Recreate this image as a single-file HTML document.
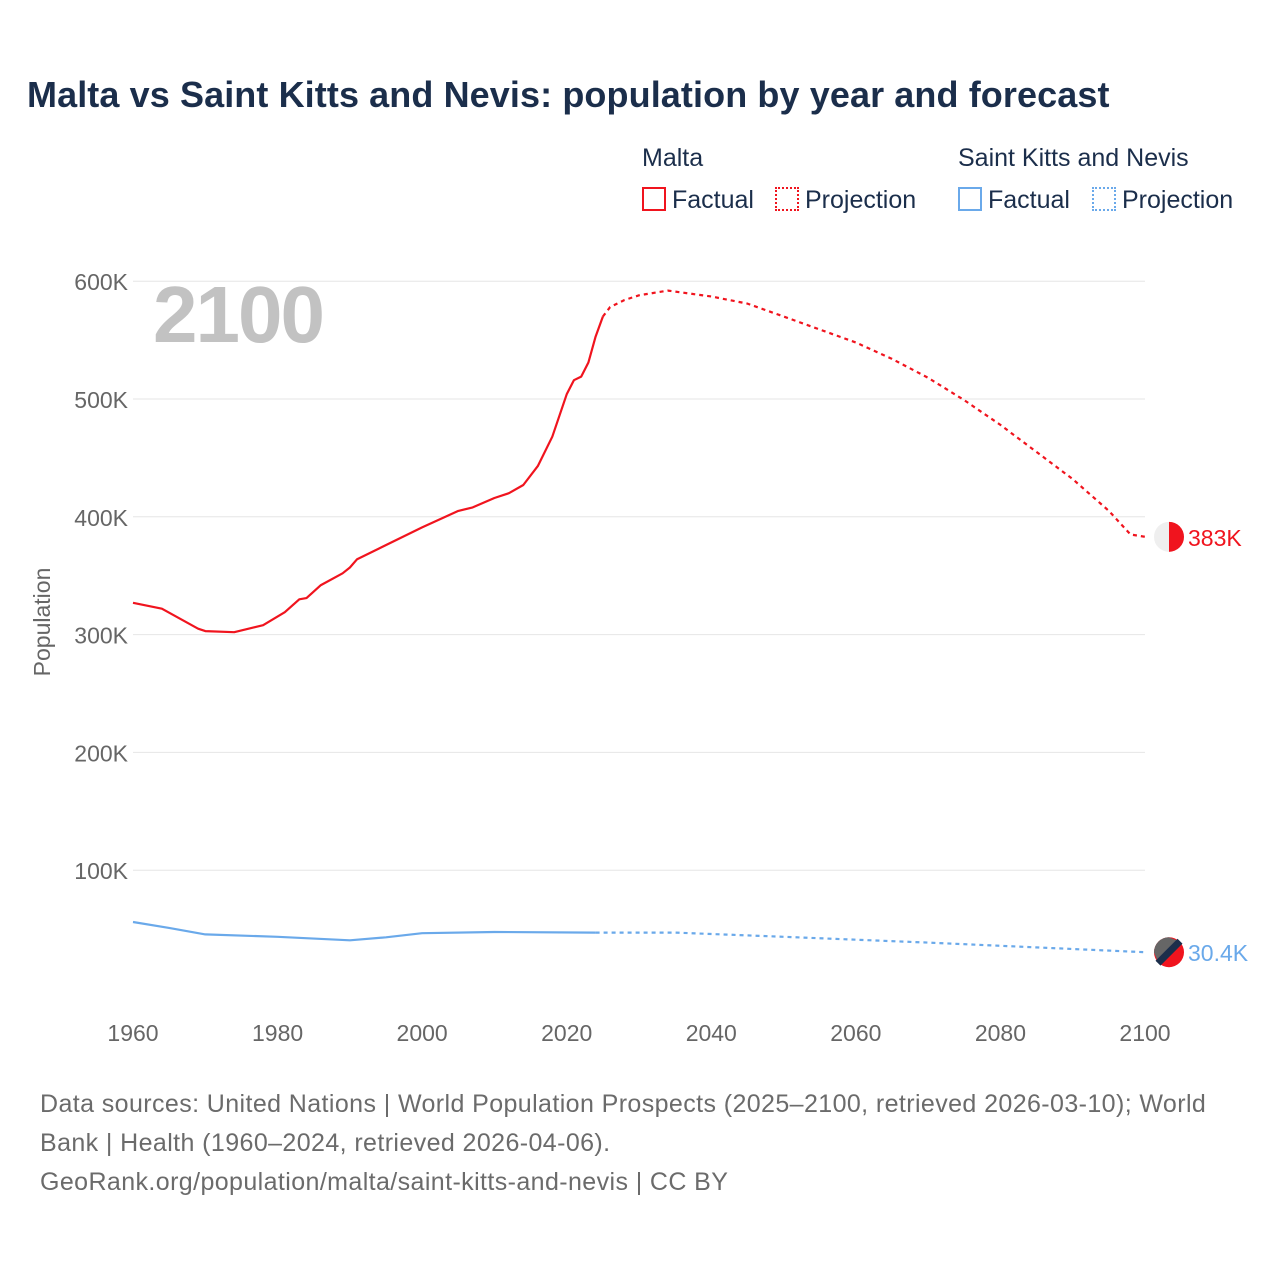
<!DOCTYPE html>
<html><head><meta charset="utf-8"><style>
body{margin:0;background:#fff;font-family:"Liberation Sans",sans-serif;}
#wrap{position:relative;width:1280px;height:1280px;overflow:hidden}
.t{position:absolute;white-space:nowrap}
</style></head><body>
<div id="wrap">
<div class="t" style="left:27px;top:74px;font-size:36px;font-weight:bold;color:#1b2e4b;letter-spacing:0.1px">Malta vs Saint Kitts and Nevis: population by year and forecast</div>
<div class="t" style="left:642px;top:144px;font-size:25px;color:#1b2e4b">Malta</div>
<div class="t" style="left:958px;top:144px;font-size:25px;color:#1b2e4b">Saint Kitts and Nevis</div>
<div class="t" style="left:642px;top:186px;font-size:25px;color:#1b2e4b"><span style="display:inline-block;width:20px;height:20px;border:2px solid #f0141e;vertical-align:-3px;margin-right:6px"></span>Factual</div>
<div class="t" style="left:775px;top:186px;font-size:25px;color:#1b2e4b"><span style="display:inline-block;width:20px;height:20px;border:2px dotted #f0141e;vertical-align:-3px;margin-right:6px"></span>Projection</div>
<div class="t" style="left:958px;top:186px;font-size:25px;color:#1b2e4b"><span style="display:inline-block;width:20px;height:20px;border:2px solid #6aa9ea;vertical-align:-3px;margin-right:6px"></span>Factual</div>
<div class="t" style="left:1092px;top:186px;font-size:25px;color:#1b2e4b"><span style="display:inline-block;width:20px;height:20px;border:2px dotted #6aa9ea;vertical-align:-3px;margin-right:6px"></span>Projection</div>
<svg id="chart" width="1280" height="1280" style="position:absolute;left:0;top:0"></svg>
<div class="t" style="left:40px;top:1085px;font-size:25px;color:#6b6b6b;line-height:39px;letter-spacing:0.4px">Data sources: United Nations | World Population Prospects (2025–2100, retrieved 2026-03-10); World<br>Bank | Health (1960–2024, retrieved 2026-04-06).<br>GeoRank.org/population/malta/saint-kitts-and-nevis | CC BY</div>
</div>
<script>
const maltaFactYears=[1960,1964,1969,1970,1974,1978,1981,1983,1984,1986,1989,1990,1991,1994,2000,2005,2007,2010,2012,2014,2016,2018,2020,2021,2022,2023,2024,2025];
const maltaFactVals=[327,322,305,303,302,308,319,330,331,342,352,357,364,373,391,405,408,416,420,427,443,468,504,516,519,531,553,570];
const maltaProjYears=[2025,2026,2028,2030,2034,2040,2045,2050,2055,2060,2065,2070,2075,2080,2085,2090,2095,2098,2100];
const maltaProjVals=[570,578,584,588,592,587,581,570,559,548,534,518,499,478,455,432,405,385,383];
const sknFactYears=[1960,1965,1970,1980,1990,1995,2000,2010,2024];
const sknFactVals=[56,51,45.5,43.5,40.5,43,46.5,47.5,47];
const sknProjYears=[2024,2035,2050,2070,2100];
const sknProjVals=[47,47,43.5,38.5,30.4];
const yTicks=[100,200,300,400,500,600];
const xTicks=[1960,1980,2000,2020,2040,2060,2080,2100];
const NS='http://www.w3.org/2000/svg';
const svg=document.getElementById('chart');
const X=y=>133+(y-1960)*(1012/140);
const Y=v=>988-v*1.178;
function mk(tag,attrs){const e=document.createElementNS(NS,tag);for(const k in attrs)e.setAttribute(k,attrs[k]);svg.appendChild(e);return e;}
yTicks.forEach(v=>{
 const l=mk('line',{x1:133,x2:1145,y1:Y(v),y2:Y(v),stroke:'#e6e6e6','stroke-width':1});
 
 
 const t=mk('text',{x:128,y:Y(v)+9,'text-anchor':'end','font-size':23,fill:'#666','font-family':'Liberation Sans, sans-serif'});
 t.textContent=v+'K';
 
 
});
xTicks.forEach(v=>{
 const t=mk('text',{x:X(v),y:1041,'text-anchor':'middle','font-size':23,fill:'#666','font-family':'Liberation Sans, sans-serif'});
 t.textContent=v;
 
 
});
const yt=mk('text',{x:0,y:0,transform:'translate(50,622) rotate(-90)','text-anchor':'middle','font-size':23,fill:'#666','font-family':'Liberation Sans, sans-serif'});
yt.textContent='Population';


const yr=mk('text',{x:153,y:342,'font-size':80,'font-weight':'bold',fill:'#c2c2c2','font-family':'Liberation Sans, sans-serif','letter-spacing':-2});
yr.textContent='2100';


function line(ys,vs,color,dash,name){
 const d=ys.map((y,i)=>(i?'L':'M')+X(y).toFixed(1)+' '+Y(vs[i]).toFixed(1)).join(' ');
 const p=mk('path',{d:d,fill:'none',stroke:color,'stroke-width':2.2,'stroke-linejoin':'round'});
 if(dash)p.setAttribute('stroke-dasharray','4 4');
 
 
}
line(maltaFactYears,maltaFactVals,'#f0141e',false,'malta-factual-line');
line(maltaProjYears,maltaProjVals,'#f0141e',true,'malta-projection-line');
line(sknFactYears,sknFactVals,'#6aa9ea',false,'skn-factual-line');
line(sknProjYears,sknProjVals,'#6aa9ea',true,'skn-projection-line');
const mv=maltaProjVals[maltaProjVals.length-1], sv=sknProjVals[sknProjVals.length-1];
const my=Y(mv), sy=Y(sv), fx=1169;
let c=mk('circle',{cx:fx,cy:my,r:15,fill:'#efefef'});


let h=mk('path',{d:`M${fx} ${my-15} A15 15 0 0 1 ${fx} ${my+15} Z`,fill:'#f0141e'});


let ml=mk('text',{x:1188,y:my+9,'font-size':23,fill:'#f0141e','font-family':'Liberation Sans, sans-serif'});
ml.textContent=mv+'K';


let c2=mk('circle',{cx:fx,cy:sy,r:15,fill:'#f0141e'});


let g=mk('path',{d:`M${fx-15} ${sy} A15 15 0 0 1 ${fx} ${sy-15} L${fx+10} ${sy-11} L${fx-11} ${sy+10} Z`,fill:'#666'});


let b=mk('line',{x1:fx-11,y1:sy+11,x2:fx+11,y2:sy-11,stroke:'#1b2e4b','stroke-width':7});


let sl=mk('text',{x:1188,y:sy+9,'font-size':23,fill:'#6aa9ea','font-family':'Liberation Sans, sans-serif'});
sl.textContent=sv+'K';


</script>
</body></html>
